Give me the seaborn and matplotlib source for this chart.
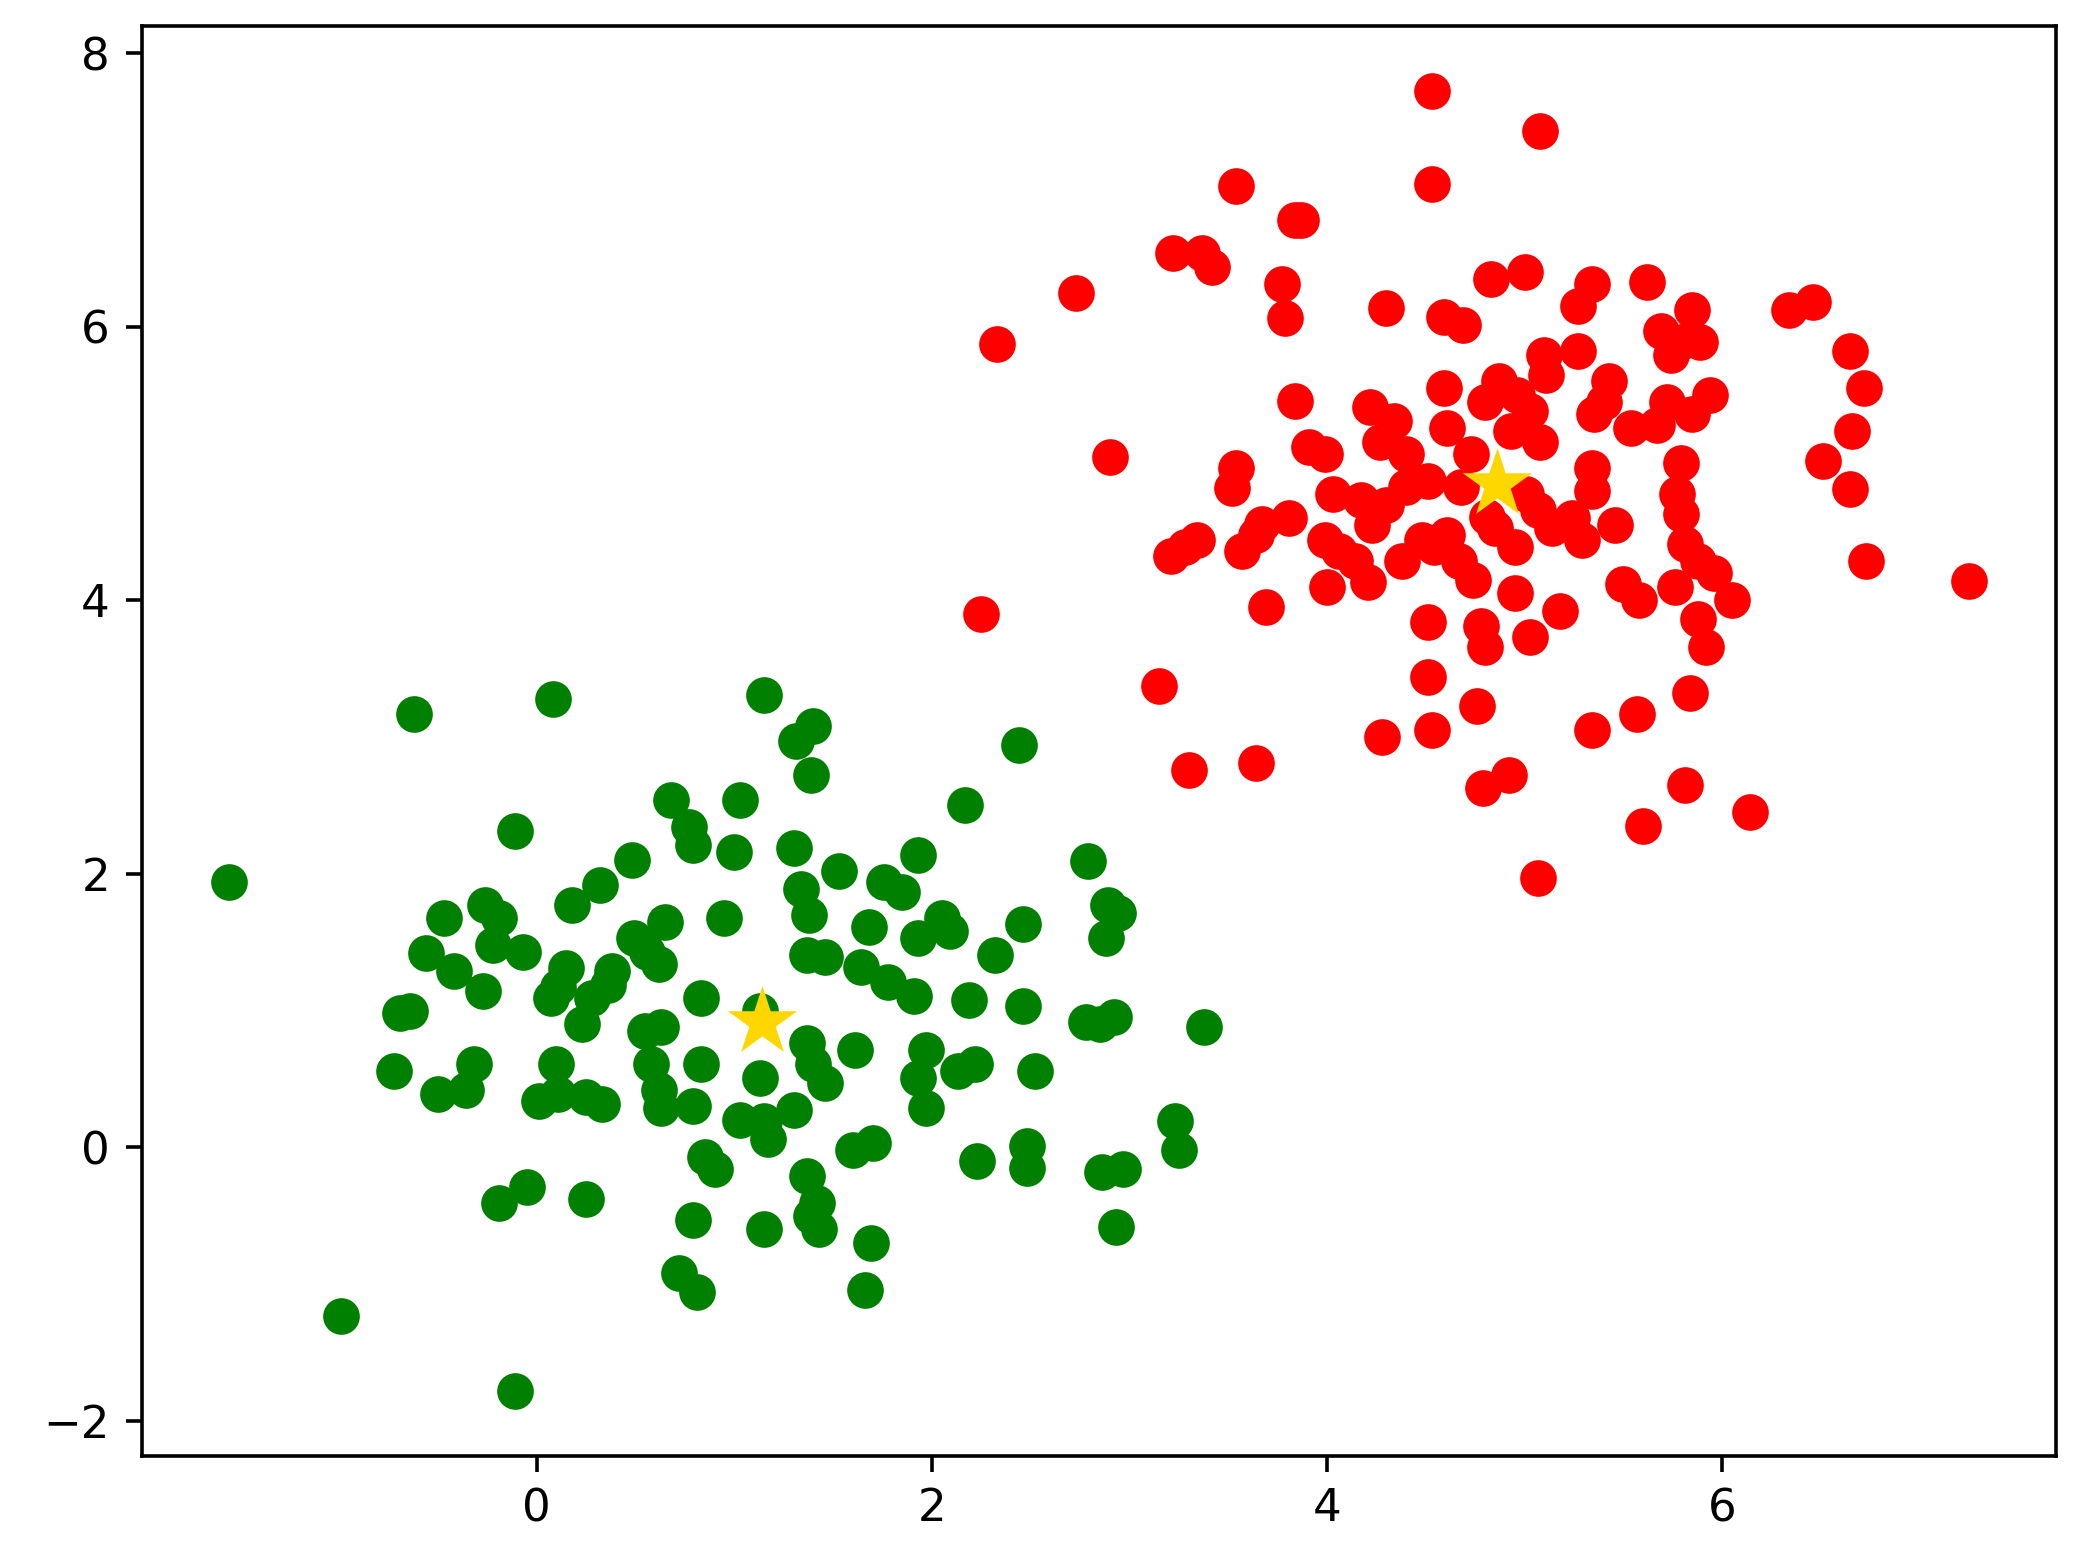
import numpy as np
import pandas as pd
import matplotlib
matplotlib.use("Agg")
import matplotlib.pyplot as plt
import seaborn as sns

# Cluster 0 (green)
green_x = [-1.56, -0.62, 0.08, -0.11, -0.99, -0.11, 1.15, 1.31, 1.40, 1.39, 2.44, 2.17,
           0.68, 0.77, 0.79, 1.03, 1.00, 0.48, 0.32, 0.18, -0.26, -0.19, -0.47, -0.22,
           -0.07, -0.56, -0.42, -0.27, -0.69, -0.64, -0.72, -0.32, -0.50, -0.36, 0.01, 0.11,
           0.10, 0.25, 0.33, -0.19, -0.05, 0.25, 0.15, 0.11, 0.07, 0.23, 0.28, 0.38,
           0.36, 0.49, 0.56, 0.62, 0.65, 0.95, 0.55, 0.63, 0.58, 0.62, 0.63, 0.79,
           0.83, 0.83, 0.85, 0.90, 0.79, 0.72, 0.81, 1.15, 1.03, 1.15, 1.17, 1.30,
           1.13, 1.13, 1.37, 1.40, 1.46, 1.37, 1.42, 1.39, 1.43, 1.60, 1.70, 1.61,
           1.69, 1.66, 1.30, 1.34, 1.38, 1.53, 1.37, 1.46, 1.64, 1.68, 1.76, 1.85,
           1.93, 1.78, 1.91, 1.93, 2.09, 2.05, 1.97, 1.93, 1.97, 2.13, 2.22, 2.19,
           2.32, 2.46, 2.46, 2.52, 2.48, 2.48, 2.23, 2.79, 2.89, 2.94, 2.88, 2.78,
           2.85, 2.92, 2.86, 2.97, 2.93, 3.23, 3.25, 3.38]
green_y = [1.94, 3.17, 3.28, 2.31, -1.23, -1.78, 3.31, 2.97, 3.08, 2.72, 2.94, 2.50,
           2.54, 2.34, 2.21, 2.54, 2.16, 2.10, 1.92, 1.77, 1.77, 1.68, 1.68, 1.48,
           1.43, 1.42, 1.29, 1.14, 0.98, 1.00, 0.56, 0.61, 0.39, 0.42, 0.34, 0.39,
           0.61, 0.37, 0.32, -0.41, -0.29, -0.38, 1.31, 1.17, 1.09, 0.90, 1.09, 1.29,
           1.19, 1.53, 1.43, 1.34, 1.65, 1.68, 0.85, 0.88, 0.61, 0.42, 0.29, 0.30,
           1.09, 0.61, -0.07, -0.16, -0.53, -0.92, -1.06, -0.60, 0.20, 0.19, 0.06, 0.27,
           0.51, 1.00, 0.76, 0.61, 0.47, -0.21, -0.41, -0.50, -0.60, -0.02, 0.03, 0.71,
           -0.70, -1.04, 2.19, 1.89, 1.70, 2.02, 1.41, 1.39, 1.32, 1.61, 1.94, 1.87,
           2.14, 1.21, 1.11, 1.53, 1.58, 1.68, 0.71, 0.51, 0.29, 0.56, 0.61, 1.08,
           1.41, 1.63, 1.03, 0.56, 0.01, -0.15, -0.10, 2.09, 1.77, 1.71, 1.53, 0.92,
           0.90, 0.95, -0.18, -0.16, -0.58, 0.19, -0.02, 0.88]

# Cluster 1 (red)
red_x = [4.53, 5.08, 4.53, 3.54, 3.84, 3.87, 3.22, 3.37, 3.42, 2.73, 3.77, 3.79,
         2.33, 4.30, 4.59, 4.69, 4.83, 5.00, 5.34, 5.27, 5.62, 5.85, 5.69, 5.79,
         5.89, 5.74, 6.34, 6.46, 6.65, 6.72, 6.66, 6.51, 6.65, 6.73, 7.25, 5.10,
         5.27, 5.11, 5.43, 5.40, 5.35, 5.54, 5.67, 5.72, 5.94, 5.85, 5.79, 5.77,
         5.79, 5.81, 5.88, 5.96, 6.05, 5.76, 5.58, 5.50, 5.88, 5.92, 5.84, 5.57,
         5.81, 5.60, 6.14, 5.34, 5.07, 4.92, 4.79, 4.76, 4.53, 4.51, 4.28, 4.51,
         4.78, 4.80, 5.03, 5.18, 4.95, 4.74, 4.67, 4.61, 4.48, 4.38, 4.21, 4.14,
         4.00, 3.99, 4.06, 4.23, 4.30, 4.17, 4.03, 3.91, 3.99, 3.84, 4.22, 4.34,
         4.27, 4.40, 4.51, 4.40, 4.61, 4.59, 4.80, 4.87, 4.96, 5.03, 4.93, 5.08,
         4.73, 4.68, 5.01, 5.07, 5.14, 5.24, 5.34, 5.34, 5.29, 5.46, 4.85, 4.95,
         4.54, 4.81, 3.67, 3.64, 3.57, 3.52, 3.54, 3.81, 3.28, 3.34, 3.21, 3.69,
         2.90, 2.25, 3.15, 3.30, 3.64]
red_y = [7.72, 7.43, 7.04, 7.03, 6.78, 6.78, 6.54, 6.54, 6.44, 6.25, 6.31, 6.06,
         5.87, 6.14, 6.07, 6.01, 6.35, 6.40, 6.31, 6.15, 6.33, 6.12, 5.97, 5.89,
         5.89, 5.79, 6.12, 6.18, 5.82, 5.55, 5.24, 5.02, 4.81, 4.29, 4.14, 5.79,
         5.82, 5.65, 5.60, 5.45, 5.36, 5.26, 5.28, 5.45, 5.50, 5.36, 5.00, 4.78,
         4.63, 4.41, 4.29, 4.20, 4.00, 4.10, 4.00, 4.12, 3.86, 3.66, 3.32, 3.17,
         2.65, 2.35, 2.45, 3.05, 1.97, 2.72, 2.63, 3.23, 3.05, 3.44, 3.00, 3.84,
         3.81, 3.66, 3.73, 3.92, 4.05, 4.15, 4.29, 4.48, 4.44, 4.29, 4.13, 4.29,
         4.10, 4.44, 4.36, 4.55, 4.70, 4.73, 4.78, 5.12, 5.07, 5.46, 5.41, 5.31,
         5.16, 5.07, 4.87, 4.83, 5.26, 5.55, 5.45, 5.60, 5.50, 5.38, 5.24, 5.16,
         5.07, 4.83, 4.78, 4.66, 4.53, 4.60, 4.80, 4.97, 4.44, 4.55, 4.53, 4.39,
         4.39, 4.61, 4.56, 4.48, 4.36, 4.82, 4.97, 4.60, 4.39, 4.44, 4.32, 3.95,
         5.05, 3.90, 3.37, 2.76, 2.81]

# Cluster centres
centre_x = [1.14, 4.86]
centre_y = [0.92, 4.85]

green = pd.DataFrame({'x': green_x, 'y': green_y})
red = pd.DataFrame({'x': red_x, 'y': red_y})
centres = pd.DataFrame({'x': centre_x, 'y': centre_y})

sns.set_style("ticks")
plt.rcParams['font.family'] = ['DejaVu Sans']
plt.rcParams['axes.edgecolor'] = 'black'
plt.rcParams['xtick.color'] = 'black'
plt.rcParams['ytick.color'] = 'black'

fig = plt.figure(figsize=(2081 / 325, 1557 / 325), dpi=325)
ax = fig.add_axes([0.068, 0.065, 0.920, 0.918])

sns.scatterplot(data=green, x='x', y='y', color='green', s=66, linewidth=0, ax=ax)
sns.scatterplot(data=red, x='x', y='y', color='red', s=66, linewidth=0, ax=ax)
sns.scatterplot(data=centres, x='x', y='y', color='gold', marker='*', s=260,
                linewidth=0, ax=ax)

ax.set_xlabel('')
ax.set_ylabel('')
ax.set_xticks([0, 2, 4, 6])
ax.set_yticks([-2, 0, 2, 4, 6, 8])
ax.tick_params(labelsize=10, width=0.8, length=3.5)
for sp in ax.spines.values():
    sp.set_linewidth(0.8)

fig.savefig('out.png', dpi=325)
